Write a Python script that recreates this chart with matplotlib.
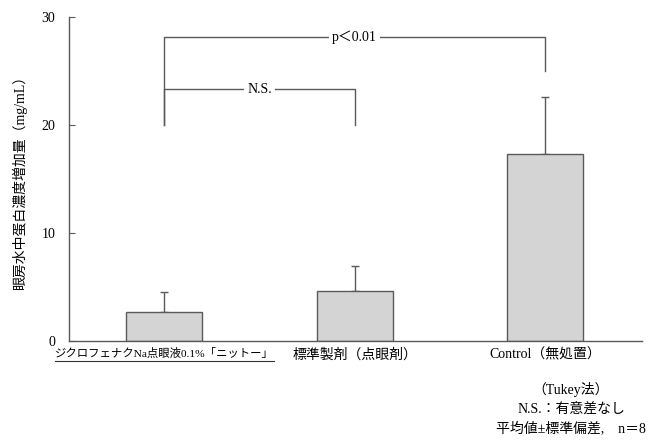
import matplotlib
matplotlib.use("Agg")
import matplotlib.pyplot as plt
from matplotlib.lines import Line2D

plt.rcParams['font.family'] = ['Liberation Serif', 'Noto Sans CJK JP', 'DejaVu Sans']

categories = ["ジクロフェナクNa点眼液0.1%「ニットー」", "標準製剤（点眼剤）", "Control（無処置）"]
means = [2.7, 4.6, 17.3]
sds = [1.8, 2.3, 5.3]
yticks = [0, 10, 20, 30]
ylabel = "眼房水中蛋白濃度増加量（mg/mL）"
notes = ["（Tukey法）", "N.S.：有意差なし", "平均値±標準偏差,　n＝8"]
# brackets: (x1, x2, y_top, y_left_end, y_right_end, label)
brackets = [(0, 2, 28.15, 20.0, 25.0, "p＜0.01"),
            (0, 1, 23.3, 20.0, 20.0, "N.S.")]

edge = "#5a5a5a"
fig = plt.figure(figsize=(6.64, 4.41), dpi=100)
ax = fig.add_axes([0.104, 0.2268, 0.863, 0.735])

x = list(range(len(categories)))
ax.bar(x, means, width=0.4, color="#d4d4d4", edgecolor=edge, linewidth=1.0, zorder=2)
ax.errorbar(x, means, yerr=[[0]*len(sds), sds], fmt="none", ecolor=edge,
            elinewidth=1.0, capsize=3, capthick=1.0, zorder=1)

ax.set_xlim(-0.5, 2.51)
ax.set_ylim(0, 30)
ax.set_yticks(yticks)
ax.tick_params(axis="y", direction="in", length=4, color=edge, labelsize=10, pad=10)
ax.tick_params(axis="x", length=0, pad=5)
ax.set_xticks(x)
labels = ax.set_xticklabels(categories, fontsize=10)
labels[0].set_fontsize(8.2)
for s in ["top", "right"]:
    ax.spines[s].set_visible(False)
for s in ["left", "bottom"]:
    ax.spines[s].set_color(edge)
    ax.spines[s].set_linewidth(1.0)
ax.set_ylabel(ylabel, fontsize=10, labelpad=10)

for x1, x2, yt, yl, yr, lab in brackets:
    ax.plot([x1, x1, x2, x2], [yl, yt, yt, yr], color=edge, lw=1.0, clip_on=False)
    ax.text((x1 + x2) / 2, yt, lab, ha="center", va="center", fontsize=10,
            bbox=dict(facecolor="white", edgecolor="none", pad=2))

# underline first tick label
fig.canvas.draw()
r = fig.canvas.get_renderer()
bb = labels[0].get_window_extent(r)
inv = fig.transFigure.inverted()
(x0, y0) = inv.transform((bb.x0, bb.y0 - 2))
(x1_, _) = inv.transform((bb.x1, bb.y0 - 2))
fig.add_artist(Line2D([x0, x1_], [y0, y0], color="#333333", lw=0.8))

for i, t in enumerate(notes):
    fig.text(0.86, 0.116 - i * 0.044, t, ha="center", va="center", fontsize=10)

fig.savefig("out.png", dpi=100)
